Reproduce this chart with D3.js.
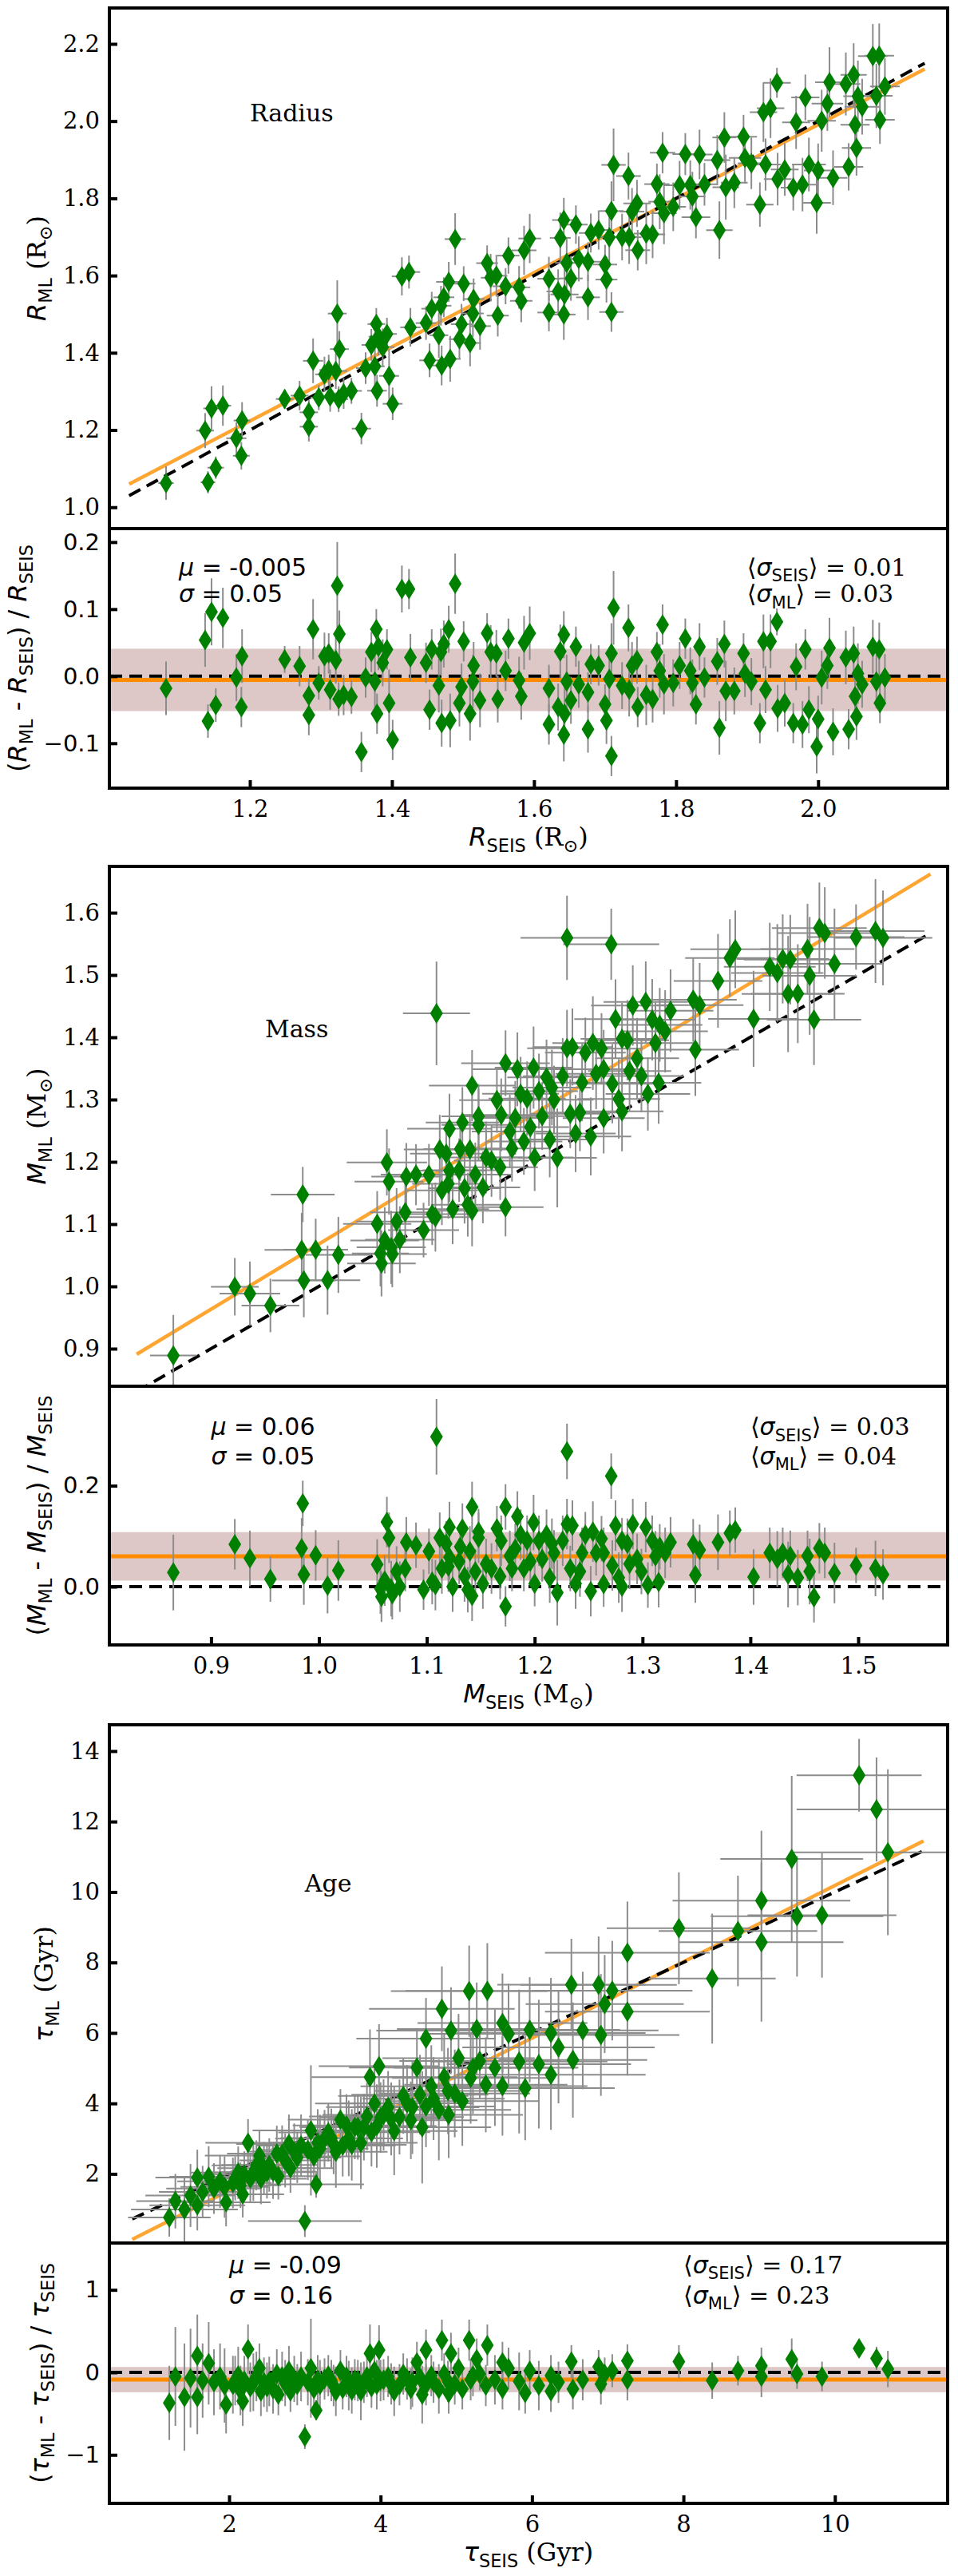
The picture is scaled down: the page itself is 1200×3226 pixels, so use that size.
<!DOCTYPE html>
<html>
<head>
<meta charset="utf-8">
<script src="https://cdn.jsdelivr.net/npm/d3@7"></script>
<style>
html, body { margin: 0; padding: 0; background: #fff; }
svg { display: block; }
</style>
</head>
<body>
<script>
// Each star: [seismic value, (ML - SEIS)/SEIS, relative error of SEIS, relative error of ML]
var radiusStars = [
 [1.082,-0.018,0.010,0.040],[1.137,0.054,0.011,0.040],[1.146,0.096,0.010,0.050],[1.162,0.087,0.010,0.045],
 [1.141,-0.067,0.009,0.025],[1.152,-0.043,0.010,0.025],[1.189,0.030,0.010,0.040],[1.181,-0.002,0.012,0.035],
 [1.188,-0.046,0.010,0.030],[1.249,0.025,0.010,0.020],[1.270,0.015,0.010,0.030],[1.289,0.070,0.011,0.045],
 [1.283,-0.029,0.010,0.025],[1.283,-0.058,0.010,0.030],[1.297,-0.010,0.009,0.025],[1.305,0.030,0.010,0.035],
 [1.311,0.034,0.010,0.030],[1.313,-0.020,0.010,0.030],[1.321,0.024,0.012,0.035],[1.323,0.135,0.010,0.065],
 [1.326,0.063,0.010,0.035],[1.325,-0.034,0.010,0.025],[1.332,-0.028,0.010,0.030],[1.343,-0.031,0.011,0.025],
 [1.357,-0.113,0.010,0.030],[1.363,-0.002,0.010,0.030],[1.371,0.036,0.010,0.030],[1.378,0.070,0.009,0.030],
 [1.376,-0.008,0.010,0.040],[1.379,-0.056,0.010,0.030],[1.381,0.044,0.010,0.035],[1.387,0.020,0.012,0.035],
 [1.393,0.040,0.010,0.030],[1.396,-0.040,0.010,0.050],[1.401,-0.095,0.010,0.030],[1.414,0.130,0.010,0.035],
 [1.424,0.130,0.011,0.030],[1.426,0.028,0.010,0.035],[1.448,0.020,0.010,0.030],[1.456,0.040,0.010,0.030],
 [1.453,-0.050,0.010,0.030],[1.466,-0.014,0.009,0.040],[1.469,0.036,0.010,0.035],[1.470,-0.070,0.010,0.035],
 [1.473,0.048,0.010,0.035],[1.480,0.070,0.012,0.035],[1.482,-0.066,0.010,0.040],[1.489,0.138,0.010,0.045],
 [1.495,-0.040,0.010,0.035],[1.498,-0.016,0.010,0.035],[1.501,0.052,0.011,0.030],[1.510,-0.056,0.010,0.040],
 [1.514,-0.008,0.010,0.040],[1.515,0.016,0.010,0.035],[1.534,0.064,0.010,0.030],[1.539,0.036,0.009,0.040],
 [1.547,0.034,0.010,0.035],[1.524,-0.036,0.010,0.040],[1.549,-0.034,0.010,0.035],[1.560,0.008,0.012,0.030],
 [1.564,0.056,0.010,0.030],[1.579,-0.006,0.010,0.035],[1.582,-0.030,0.010,0.035],[1.586,0.050,0.011,0.040],
 [1.594,0.064,0.010,0.040],[1.621,-0.018,0.010,0.035],[1.621,-0.072,0.010,0.030],[1.634,-0.046,0.010,0.035],
 [1.637,0.037,0.009,0.040],[1.642,0.062,0.010,0.035],[1.646,-0.008,0.010,0.040],[1.642,-0.087,0.010,0.040],
 [1.643,-0.056,0.012,0.040],[1.652,-0.036,0.010,0.035],[1.659,0.044,0.010,0.030],[1.663,-0.012,0.010,0.035],
 [1.676,-0.024,0.011,0.030],[1.676,-0.079,0.010,0.035],[1.680,0.018,0.010,0.030],[1.691,0.016,0.010,0.030],
 [1.700,-0.042,0.010,0.030],[1.702,-0.066,0.009,0.035],[1.706,-0.004,0.010,0.040],[1.709,0.034,0.010,0.045],
 [1.712,0.102,0.010,0.055],[1.709,-0.119,0.010,0.030],[1.724,-0.014,0.012,0.035],[1.733,0.072,0.010,0.035],
 [1.734,-0.020,0.010,0.040],[1.738,0.016,0.010,0.035],[1.745,0.024,0.011,0.035],[1.746,-0.046,0.010,0.030],
 [1.758,-0.028,0.010,0.045],[1.767,-0.034,0.010,0.035],[1.773,0.036,0.010,0.030],[1.777,0.008,0.009,0.040],
 [1.781,0.077,0.010,0.030],[1.783,-0.012,0.010,0.045],[1.796,-0.010,0.010,0.035],[1.805,0.016,0.012,0.035],
 [1.813,0.056,0.010,0.030],[1.820,0.008,0.010,0.035],[1.823,-0.010,0.010,0.035],[1.828,-0.042,0.011,0.030],
 [1.833,0.044,0.010,0.035],[1.840,-0.002,0.010,0.030],[1.858,0.022,0.010,0.035],[1.861,-0.077,0.010,0.040],
 [1.868,0.048,0.009,0.035],[1.870,-0.022,0.010,0.045],[1.882,-0.022,0.010,0.035],[1.895,0.034,0.010,0.030],
 [1.897,0.004,0.012,0.035],[1.906,-0.008,0.010,0.035],[1.918,-0.070,0.010,0.030],[1.923,0.052,0.010,0.040],
 [1.926,-0.020,0.011,0.035],[1.933,0.052,0.010,0.040],[1.942,0.081,0.010,0.020],[1.943,-0.048,0.010,0.035],
 [1.953,-0.040,0.010,0.035],[1.965,-0.070,0.009,0.030],[1.969,0.014,0.010,0.035],[1.978,-0.072,0.010,0.035],
 [1.982,0.040,0.010,0.030],[1.987,-0.050,0.012,0.035],[1.998,-0.105,0.010,0.040],[2.000,-0.064,0.010,0.035],
 [2.005,-0.002,0.010,0.040],[2.013,0.016,0.011,0.035],[2.016,0.042,0.010,0.045],[2.021,-0.083,0.010,0.035],
 [2.039,0.028,0.010,0.040],[2.043,-0.079,0.010,0.030],[2.050,0.034,0.009,0.040],[2.054,-0.060,0.010,0.035],
 [2.056,0.004,0.010,0.045],[2.052,-0.030,0.010,0.035],[2.062,-0.012,0.012,0.035],[2.077,0.044,0.010,0.040],
 [2.086,0.040,0.010,0.040],[2.082,-0.008,0.011,0.040],[2.087,-0.040,0.010,0.030],[2.094,-0.002,0.010,0.035]
];

var massStars = [
 [0.865,0.028,0.025,0.075],[0.922,0.084,0.024,0.050],[0.936,0.056,0.030,0.055],[0.955,0.015,0.028,0.045],
 [0.985,0.165,0.030,0.045],[0.984,0.076,0.035,0.060],[0.986,0.024,0.030,0.060],[0.997,0.062,0.030,0.050],
 [1.008,0.002,0.030,0.055],[1.018,0.032,0.030,0.060],[1.054,0.044,0.030,0.050],[1.057,-0.004,0.025,0.050],
 [1.063,0.128,0.035,0.050],[1.065,0.097,0.030,0.050],[1.061,0.012,0.030,0.050],[1.067,-0.004,0.030,0.055],
 [1.072,0.030,0.035,0.050],[1.081,0.088,0.030,0.050],[1.080,0.036,0.030,0.045],[1.090,0.082,0.030,0.045],
 [1.097,-0.006,0.030,0.040],[1.102,0.070,0.030,0.045],[1.109,0.297,0.028,0.075],[1.108,0.003,0.030,0.050],
 [1.112,0.097,0.030,0.050],[1.114,0.036,0.030,0.050],[1.121,0.118,0.035,0.050],[1.121,0.058,0.030,0.045],
 [1.124,0.000,0.030,0.050],[1.131,0.079,0.030,0.045],[1.133,0.115,0.030,0.050],[1.138,-0.006,0.030,0.045],
 [1.142,0.158,0.035,0.050],[1.142,-0.018,0.030,0.050],[1.145,0.030,0.030,0.045],[1.148,0.097,0.030,0.050],
 [1.148,0.109,0.030,0.045],[1.152,0.006,0.030,0.050],[1.160,0.036,0.030,0.050],[1.165,0.115,0.030,0.045],
 [1.169,0.091,0.030,0.050],[1.173,0.158,0.035,0.045],[1.173,-0.039,0.030,0.040],[1.177,0.061,0.030,0.050],
 [1.179,0.036,0.030,0.045],[1.184,0.139,0.035,0.050],[1.187,0.103,0.030,0.050],[1.190,0.036,0.030,0.045],
 [1.193,0.091,0.030,0.050],[1.199,0.127,0.030,0.055],[1.200,0.006,0.030,0.045],[1.204,0.091,0.030,0.050],
 [1.207,0.055,0.030,0.045],[1.211,0.103,0.030,0.050],[1.214,0.018,0.030,0.050],[1.218,0.067,0.030,0.045],
 [1.221,-0.012,0.030,0.065],[1.226,0.091,0.030,0.050],[1.230,0.268,0.035,0.055],[1.230,0.124,0.030,0.050],
 [1.233,0.036,0.030,0.045],[1.235,0.121,0.030,0.050],[1.238,0.006,0.030,0.050],[1.244,0.067,0.030,0.050],
 [1.247,0.103,0.030,0.045],[1.252,-0.009,0.030,0.050],[1.254,0.109,0.030,0.060],[1.257,0.067,0.030,0.045],
 [1.264,0.067,0.030,0.050],[1.264,0.005,0.030,0.045],[1.271,0.219,0.035,0.045],[1.272,0.042,0.030,0.050],
 [1.275,0.121,0.030,0.050],[1.278,0.018,0.030,0.050],[1.281,0.000,0.030,0.050],[1.281,0.091,0.030,0.045],
 [1.286,0.085,0.030,0.050],[1.291,0.124,0.030,0.050],[1.295,0.055,0.030,0.050],[1.299,0.030,0.030,0.045],
 [1.303,0.118,0.030,0.050],[1.305,0.003,0.030,0.045],[1.309,0.091,0.030,0.050],[1.315,0.009,0.030,0.050],
 [1.316,0.079,0.030,0.045],[1.321,0.067,0.030,0.050],[1.326,0.088,0.030,0.050],[1.347,0.084,0.030,0.050],
 [1.349,0.023,0.030,0.055],[1.353,0.073,0.030,0.050],[1.370,0.088,0.030,0.055],[1.381,0.106,0.030,0.045],
 [1.386,0.112,0.030,0.045],[1.403,0.019,0.030,0.055],[1.418,0.067,0.030,0.050],[1.425,0.055,0.030,0.055],
 [1.430,0.067,0.030,0.050],[1.435,0.024,0.030,0.065],[1.437,0.061,0.030,0.050],[1.444,0.018,0.030,0.055],
 [1.453,0.061,0.030,0.050],[1.455,0.030,0.030,0.065],[1.459,-0.021,0.030,0.050],[1.464,0.076,0.030,0.050],
 [1.469,0.067,0.030,0.050],[1.478,0.027,0.030,0.060],[1.498,0.042,0.030,0.035],[1.516,0.036,0.030,0.055],
 [1.523,0.024,0.030,0.050],[1.058,-0.020,0.030,0.050],[1.068,-0.015,0.030,0.050],[1.075,0.000,0.030,0.050],
 [1.105,0.010,0.030,0.045],[1.120,0.040,0.030,0.050],[1.130,0.050,0.030,0.045],[1.135,0.020,0.030,0.050],
 [1.140,0.070,0.030,0.050],[1.155,0.045,0.030,0.050],[1.168,0.020,0.030,0.045],[1.182,0.075,0.030,0.050],
 [1.196,0.050,0.030,0.045],[1.216,0.085,0.030,0.050],[1.242,0.030,0.030,0.050],[1.262,0.095,0.030,0.045],
 [1.288,0.045,0.030,0.050],[1.312,0.060,0.030,0.050],[1.118,0.085,0.030,0.045]
];

var ageStars = [
 [1.21,-0.37,0.45,0.45],[1.29,-0.05,0.40,0.60],[1.41,-0.30,0.50,0.65],[1.49,-0.07,0.40,0.60],
 [1.58,0.20,0.35,0.50],[1.58,-0.30,0.40,0.45],[1.73,0.11,0.30,0.50],[1.80,-0.12,0.35,0.40],
 [1.96,-0.39,0.30,0.35],[1.94,-0.16,0.30,0.45],[2.12,-0.04,0.30,0.35],[2.18,-0.35,0.25,0.30],
 [2.25,0.28,0.25,0.30],[2.32,-0.12,0.25,0.35],[2.40,0.05,0.30,0.30],[2.42,-0.23,0.25,0.30],
 [2.53,-0.11,0.25,0.30],[2.63,-0.02,0.25,0.30],[2.65,-0.27,0.20,0.25],[2.79,0.02,0.25,0.30],
 [2.81,-0.23,0.20,0.25],[2.95,-0.05,0.20,0.30],[3.00,-0.78,0.25,0.15],[3.08,0.05,0.25,0.60],
 [3.15,-0.46,0.20,0.12],[3.17,-0.09,0.20,0.30],[3.31,-0.04,0.20,0.25],[3.41,-0.23,0.20,0.30],
 [3.47,0.02,0.20,0.25],[3.58,-0.16,0.20,0.30],[3.66,-0.09,0.20,0.25],[3.74,-0.23,0.20,0.35],
 [3.82,-0.05,0.20,0.25],[3.86,0.23,0.20,0.35],[3.92,0.02,0.20,0.25],[3.98,0.27,0.20,0.30],
 [4.04,-0.09,0.20,0.25],[4.18,-0.23,0.20,0.30],[4.30,-0.02,0.20,0.25],[4.42,-0.12,0.20,0.30],
 [4.48,0.12,0.20,0.25],[4.55,-0.27,0.20,0.35],[4.60,0.27,0.20,0.25],[4.67,-0.04,0.20,0.25],
 [4.77,-0.20,0.20,0.30],[4.81,0.39,0.20,0.25],[4.89,-0.11,0.20,0.25],[4.93,0.23,0.20,0.25],
 [5.03,0.05,0.20,0.25],[5.17,0.39,0.20,0.25],[5.19,-0.09,0.20,0.25],[5.27,0.16,0.20,0.25],
 [2.05,-0.15,0.25,0.35],[2.20,-0.10,0.25,0.30],[2.50,-0.18,0.25,0.30],[2.70,-0.05,0.20,0.30],
 [2.90,-0.15,0.20,0.25],[3.20,-0.15,0.20,0.30],[3.35,-0.10,0.20,0.25],[3.50,-0.20,0.20,0.25],
 [3.70,-0.10,0.20,0.25],[3.95,-0.15,0.20,0.30],[4.10,-0.05,0.20,0.25],[4.25,-0.15,0.20,0.25],
 [4.60,-0.15,0.20,0.25],[4.90,-0.25,0.20,0.25],[5.41,0.33,0.20,0.25],[5.31,-0.02,0.20,0.20],
 [5.39,-0.16,0.20,0.25],[5.51,-0.09,0.20,0.30],[5.61,0.12,0.20,0.25],[5.61,-0.20,0.20,0.25],
 [5.69,0.05,0.20,0.25],[5.83,-0.11,0.20,0.35],[5.91,-0.25,0.20,0.25],[5.97,0.02,0.20,0.25],
 [6.09,-0.16,0.20,0.30],[6.25,-0.04,0.20,0.25],[6.25,-0.23,0.20,0.25],[6.35,-0.12,0.20,0.25],
 [6.52,0.13,0.15,0.20],[6.54,-0.20,0.15,0.25],[6.67,-0.09,0.15,0.25],[6.88,0.07,0.15,0.20],
 [6.91,-0.14,0.15,0.25],[6.96,-0.02,0.15,0.20],[7.06,0.02,0.15,0.20],[7.26,0.14,0.15,0.20],
 [7.26,-0.09,0.15,0.25],[7.94,0.13,0.12,0.20],[8.38,-0.10,0.10,0.22],[8.72,0.02,0.12,0.18],
 [9.03,0.08,0.13,0.22],[9.03,-0.05,0.12,0.25],[9.43,0.16,0.10,0.25],[9.50,-0.02,0.12,0.18],
 [9.83,-0.05,0.10,0.18],[10.32,0.29,0.08,0.10],[10.55,0.17,0.10,0.14],[10.70,0.04,0.12,0.22],
 [2.08,-0.10,0.25,0.30],[2.28,-0.18,0.25,0.30],[2.36,-0.05,0.25,0.30],[2.46,-0.12,0.25,0.30],
 [2.58,-0.20,0.22,0.30],[2.74,-0.13,0.22,0.28],[2.86,-0.08,0.22,0.28],[3.04,-0.12,0.22,0.28],
 [3.12,-0.20,0.20,0.28],[3.26,-0.08,0.20,0.25],[3.38,-0.16,0.20,0.25],[3.55,-0.05,0.20,0.25],
 [3.62,-0.22,0.20,0.28],[3.78,-0.12,0.20,0.25],[3.88,-0.18,0.20,0.25],[4.00,-0.10,0.20,0.25],
 [4.14,-0.14,0.20,0.25],[4.35,-0.08,0.20,0.25],[4.40,-0.20,0.20,0.25],[4.52,-0.06,0.20,0.25],
 [4.70,-0.12,0.20,0.25],[4.84,-0.02,0.20,0.25],[4.98,-0.14,0.20,0.25],[5.08,-0.20,0.20,0.25],
 [5.22,-0.04,0.20,0.25],[1.65,-0.10,0.35,0.45],[1.88,-0.05,0.30,0.40],[2.15,-0.22,0.25,0.30]
];

// fitted relation (two end points) and the 1:1 line extent
var radiusFit = [[1.03, 1.06], [2.15, 2.135]];
var massFit = [[0.831, 0.891], [1.567, 1.662]];
var ageFit = [[0.72, 0.14], [11.17, 11.45]];
var radiusOneToOne = [1.03, 2.15];
var massOneToOne = [0.831, 1.567];
var ageOneToOne = [0.72, 11.17];

// mean and spread of the relative differences (band = mu +/- sigma)
var radiusBand = [-0.0055, 0.0465];
var massBand = [0.060, 0.048];
var ageBand = [-0.088, 0.153];

// printed statistics: mu, sigma, <sigma_SEIS>, <sigma_ML>
var radiusStats = ["-0.005", "0.05", "0.01", "0.03"];
var massStats = ["0.06", "0.05", "0.03", "0.04"];
var ageStats = ["-0.09", "0.16", "0.17", "0.23"];

var radiusTicksX = [1.2, 1.4, 1.6, 1.8, 2.0];
var radiusTicksY = [1.0, 1.2, 1.4, 1.6, 1.8, 2.0, 2.2];
var radiusTicksR = [-0.1, 0.0, 0.1, 0.2];
var massTicksX = [0.9, 1.0, 1.1, 1.2, 1.3, 1.4, 1.5];
var massTicksY = [0.9, 1.0, 1.1, 1.2, 1.3, 1.4, 1.5, 1.6];
var massTicksR = [0.0, 0.2];
var ageTicksX = [2, 4, 6, 8, 10];
var ageTicksY = [2, 4, 6, 8, 10, 12, 14];
var ageTicksR = [-1, 0, 1];

var width = 1200, height = 3226;
var plotLeft = 137, plotRight = 1187;

var panels = [
    { stars: radiusStars, fit: radiusFit, one: radiusOneToOne, band: radiusBand, stats: radiusStats,
      ticksX: radiusTicksX, ticksY: radiusTicksY, ticksR: radiusTicksR, fmtXY: ".1f", fmtR: ".1f",
      top: 10, mid: 662, bottom: 987,
      xDomain: [1.0022, 2.1823], yDomain: [0.9446, 2.293], rDomain: [-0.1669, 0.2201],
      name: "Radius", nameAt: [1.2, 2.0], statsLeft: 1.1, statsRight: 1.9, statsY: [0.15, 0.11],
      sym: [["R", "it"]], unit: [[" (R", "serif"], ["\u2299", "subserif"], [")", "serif"]] },
    { stars: massStars, fit: massFit, one: massOneToOne, band: massBand, stats: massStats,
      ticksX: massTicksX, ticksY: massTicksY, ticksR: massTicksR, fmtXY: ".1f", fmtR: ".1f",
      top: 1085, mid: 1736, bottom: 2060,
      xDomain: [0.8057, 1.5829], yDomain: [0.8397, 1.6744], rDomain: [-0.1155, 0.3972],
      name: "Mass", nameAt: [0.95, 1.4], statsLeft: 0.9, statsRight: 1.4, statsY: [0.30, 0.242],
      sym: [["M", "it"]], unit: [[" (M", "serif"], ["\u2299", "subserif"], [")", "serif"]] },
    { stars: ageStars, fit: ageFit, one: ageOneToOne, band: ageBand, stats: ageStats,
      ticksX: ageTicksX, ticksY: ageTicksY, ticksR: ageTicksR, fmtXY: "d", fmtR: "d",
      top: 2160, mid: 2809, bottom: 3135,
      xDomain: [0.4185, 11.489], yDomain: [0.0373, 14.746], rDomain: [-1.588, 1.568],
      name: "Age", nameAt: [3, 10], statsLeft: 2.0, statsRight: 8.0, statsY: [1.20, 0.83],
      sym: [["\u03c4", "it"]], unit: [[" (Gyr)", "serif"]] }
];

var svg = d3.select("body")
    .append("svg")
    .attr("width", width)
    .attr("height", height);

var defs = svg.append("defs");

// writes mathtext-like runs (italic symbols, subscripts, serif units) as tspans
function richText(sel, parts, size) {
    var shift = 0;
    parts.forEach(function(p){
        var kind = p[1];
        var isSub = kind === "sub" || kind === "subserif";
        var ts = sel.append("tspan").text(p[0])
            .attr("font-family", (kind === "serif" || kind === "subserif") ? "DejaVu Serif" : "DejaVu Sans")
            .attr("font-style", kind === "it" ? "italic" : "normal")
            .attr("font-size", isSub ? size * 0.7 : size);
        var target = isSub ? size * 0.24 : 0;
        if (target !== shift) { ts.attr("dy", target - shift); shift = target; }
    });
    return sel;
}

function diamond(){ return "M0,-13L8,0L0,13L-8,0Z"; }

function styleAxis(g, family){
    g.select(".domain").remove();
    g.selectAll(".tick line").attr("stroke", "#000").attr("stroke-width", 4);
    g.selectAll(".tick text").attr("font-family", family).attr("font-size", 29).attr("fill", "#000");
}

// rotated y label placed just left of the tick labels
function yLabel(parts, cy, tickGroup){
    var tb = tickGroup.node().getBBox();
    var tickLeft = plotLeft + tb.x;
    var t = svg.append("text").attr("text-anchor", "middle");
    richText(t, parts, 32);
    var bb = t.node().getBBox();
    var ax = tickLeft - 9 - (bb.y + bb.height);
    t.attr("transform", "translate(" + ax + "," + cy + ") rotate(-90)");
}

function drawPanel(p, i){
    var x = d3.scaleLinear().domain(p.xDomain).range([plotLeft, plotRight]);
    var y = d3.scaleLinear().domain(p.yDomain).range([p.mid, p.top]);
    var r = d3.scaleLinear().domain(p.rDomain).range([p.bottom, p.mid]);

    defs.append("clipPath").attr("id", "cm" + i).append("rect")
        .attr("x", plotLeft).attr("y", p.top)
        .attr("width", plotRight - plotLeft).attr("height", p.mid - p.top);
    defs.append("clipPath").attr("id", "cr" + i).append("rect")
        .attr("x", plotLeft).attr("y", p.mid)
        .attr("width", plotRight - plotLeft).attr("height", p.bottom - p.mid);

    var stars = p.stars.map(function(d){
        return { seis: d[0], res: d[1], ml: d[0] * (1 + d[1]),
                 ex: d[2] * d[0], ey: d[3] * d[0], er: d[3] };
    });

    // upper panel: ML vs seismic
    var main = svg.append("g").attr("clip-path", "url(#cm" + i + ")");
    main.append("line")
        .attr("x1", x(p.fit[0][0])).attr("y1", y(p.fit[0][1]))
        .attr("x2", x(p.fit[1][0])).attr("y2", y(p.fit[1][1]))
        .attr("stroke", "#ffa532").attr("stroke-width", 4.5);
    main.append("line")
        .attr("x1", x(p.one[0])).attr("y1", y(p.one[0]))
        .attr("x2", x(p.one[1])).attr("y2", y(p.one[1]))
        .attr("stroke", "#000").attr("stroke-width", 4).attr("stroke-dasharray", "16,9");
    main.selectAll(".ex").data(stars).enter().append("line")
        .attr("x1", function(d){ return x(d.seis - d.ex); })
        .attr("x2", function(d){ return x(d.seis + d.ex); })
        .attr("y1", function(d){ return y(d.ml); })
        .attr("y2", function(d){ return y(d.ml); })
        .attr("stroke", "#8c8c8c").attr("stroke-width", 2);
    main.selectAll(".ey").data(stars).enter().append("line")
        .attr("x1", function(d){ return x(d.seis); })
        .attr("x2", function(d){ return x(d.seis); })
        .attr("y1", function(d){ return y(d.ml - d.ey); })
        .attr("y2", function(d){ return y(d.ml + d.ey); })
        .attr("stroke", "#8c8c8c").attr("stroke-width", 2);
    main.selectAll(".pt").data(stars).enter().append("path")
        .attr("d", diamond)
        .attr("transform", function(d){ return "translate(" + x(d.seis) + "," + y(d.ml) + ")"; })
        .attr("fill", "#008000");

    // lower panel: relative differences
    var res = svg.append("g").attr("clip-path", "url(#cr" + i + ")");
    res.append("rect")
        .attr("x", plotLeft).attr("width", plotRight - plotLeft)
        .attr("y", r(p.band[0] + p.band[1]))
        .attr("height", r(p.band[0] - p.band[1]) - r(p.band[0] + p.band[1]))
        .attr("fill", "rosybrown").attr("fill-opacity", 0.5);
    res.append("line")
        .attr("x1", plotLeft).attr("x2", plotRight)
        .attr("y1", r(p.band[0])).attr("y2", r(p.band[0]))
        .attr("stroke", "#ff8c00").attr("stroke-width", 5);
    res.append("line")
        .attr("x1", plotLeft).attr("x2", plotRight)
        .attr("y1", r(0)).attr("y2", r(0))
        .attr("stroke", "#000").attr("stroke-width", 4).attr("stroke-dasharray", "16,9");
    res.selectAll(".er").data(stars).enter().append("line")
        .attr("x1", function(d){ return x(d.seis); })
        .attr("x2", function(d){ return x(d.seis); })
        .attr("y1", function(d){ return r(d.res - d.er); })
        .attr("y2", function(d){ return r(d.res + d.er); })
        .attr("stroke", "#8c8c8c").attr("stroke-width", 2);
    res.selectAll(".pt").data(stars).enter().append("path")
        .attr("d", diamond)
        .attr("transform", function(d){ return "translate(" + x(d.seis) + "," + r(d.res) + ")"; })
        .attr("fill", "#008000");

    // frames
    [[p.top, p.mid], [p.mid, p.bottom]].forEach(function(b){
        svg.append("rect")
            .attr("x", plotLeft).attr("y", b[0])
            .attr("width", plotRight - plotLeft).attr("height", b[1] - b[0])
            .attr("fill", "none").attr("stroke", "#000").attr("stroke-width", 4);
    });

    // axes, ticks pointing inwards
    var yAxis = svg.append("g").attr("transform", "translate(" + plotLeft + ",0)")
        .call(d3.axisLeft(y).tickValues(p.ticksY).tickFormat(d3.format(p.fmtXY)).tickSize(-10).tickPadding(12));
    styleAxis(yAxis, "DejaVu Serif");
    var rAxis = svg.append("g").attr("transform", "translate(" + plotLeft + ",0)")
        .call(d3.axisLeft(r).tickValues(p.ticksR).tickFormat(d3.format(p.fmtR)).tickSize(-10).tickPadding(12));
    styleAxis(rAxis, "DejaVu Sans");
    var xAxis = svg.append("g").attr("transform", "translate(0," + p.bottom + ")")
        .call(d3.axisBottom(x).tickValues(p.ticksX).tickFormat(d3.format(p.fmtXY)).tickSize(-10).tickPadding(15));
    styleAxis(xAxis, "DejaVu Serif");

    // axis labels
    var s = p.sym[0];
    yLabel(p.sym.concat([["ML", "sub"]], p.unit), (p.top + p.mid) / 2, yAxis);
    yLabel([["(", "sans"], s, ["ML", "sub"], [" - ", "sans"], s, ["SEIS", "sub"], [") / ", "sans"], s, ["SEIS", "sub"]],
        (p.mid + p.bottom) / 2, rAxis);
    var xl = svg.append("text").attr("text-anchor", "middle")
        .attr("x", (plotLeft + plotRight) / 2).attr("y", p.bottom + 72);
    richText(xl, p.sym.concat([["SEIS", "sub"]], p.unit), 32);

    // panel name
    svg.append("text")
        .attr("x", x(p.nameAt[0])).attr("y", y(p.nameAt[1]))
        .attr("font-family", "DejaVu Serif").attr("font-size", 30)
        .text(p.name);

    // statistics
    var lines = [
        [p.statsLeft, p.statsY[0], [["\u03bc", "it"], [" = " + p.stats[0], "sans"]]],
        [p.statsLeft, p.statsY[1], [["\u03c3", "it"], [" = " + p.stats[1], "sans"]]],
        [p.statsRight, p.statsY[0], [["\u27e8", "sans"], ["\u03c3", "it"], ["SEIS", "sub"], ["\u27e9", "sans"], [" = " + p.stats[2], "serif"]]],
        [p.statsRight, p.statsY[1], [["\u27e8", "sans"], ["\u03c3", "it"], ["ML", "sub"], ["\u27e9", "sans"], [" = " + p.stats[3], "serif"]]]
    ];
    lines.forEach(function(l){
        var t = svg.append("text").attr("x", x(l[0])).attr("y", r(l[1]));
        richText(t, l[2], 30);
    });
}

panels.forEach(drawPanel);
</script>
</body>
</html>
